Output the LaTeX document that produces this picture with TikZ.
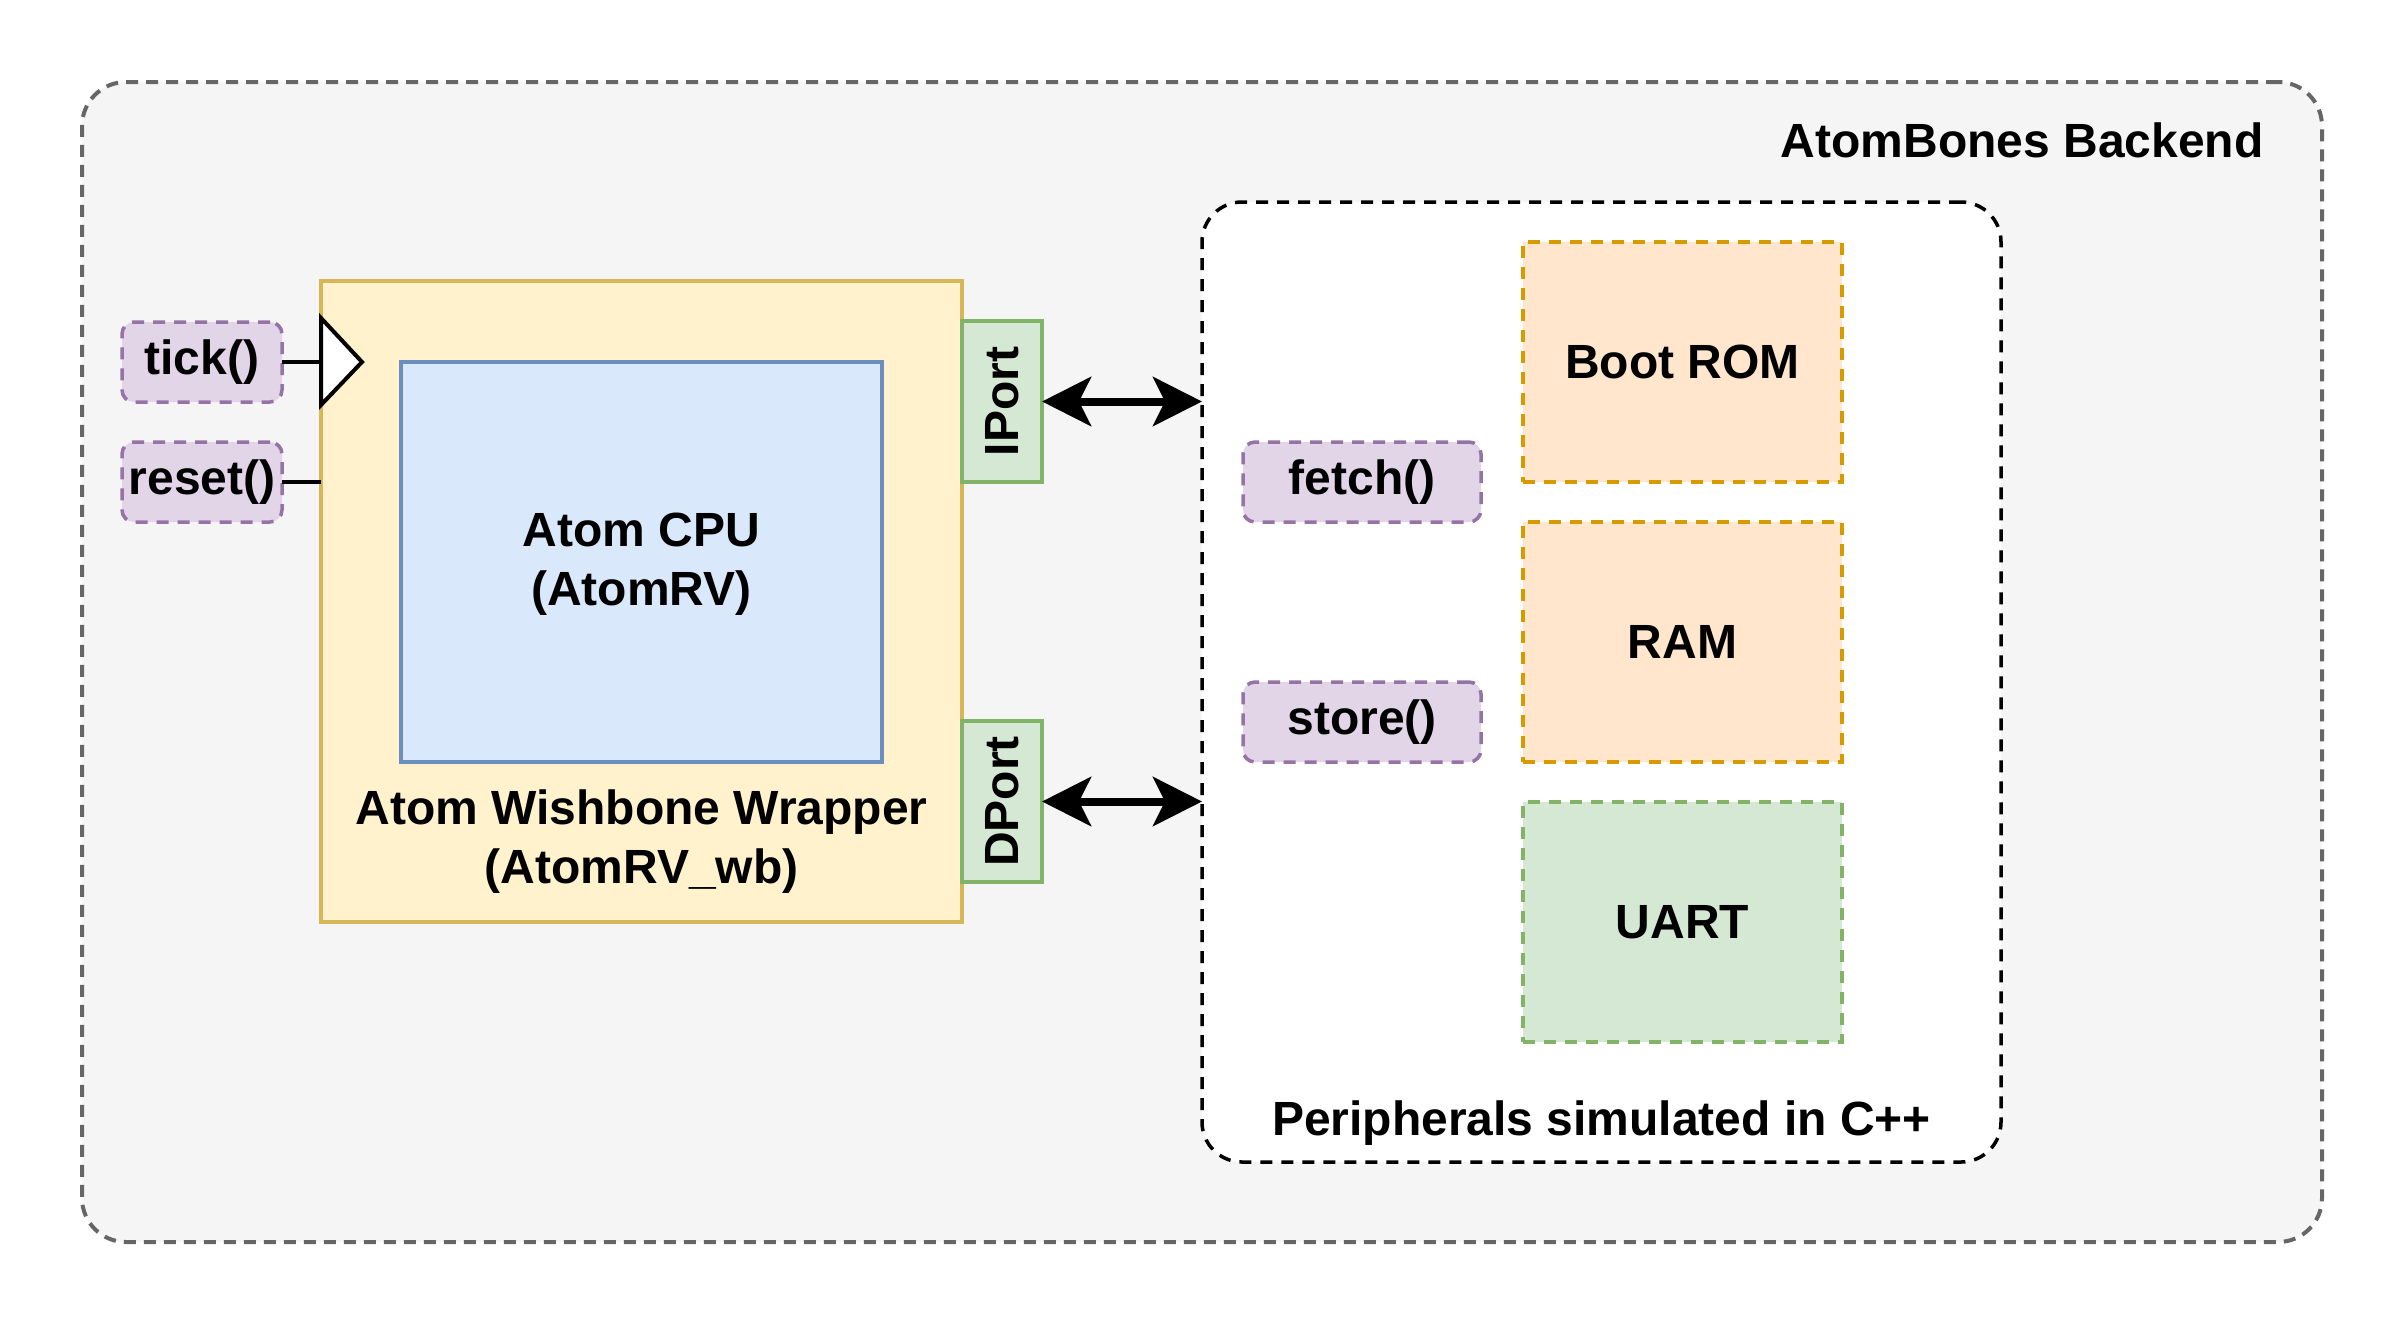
\documentclass[tikz,border=0pt]{standalone}
\usepackage{fontspec}
\setmainfont{Liberation Sans}
\usetikzlibrary{arrows.meta}
\definecolor{outerfill}{HTML}{F5F5F5}
\definecolor{outerdraw}{HTML}{666666}
\definecolor{wrapfill}{HTML}{FFF2CC}
\definecolor{wrapdraw}{HTML}{D6B656}
\definecolor{cpufill}{HTML}{DAE8FC}
\definecolor{cpudraw}{HTML}{6C8EBF}
\definecolor{greenfill}{HTML}{D5E8D4}
\definecolor{greendraw}{HTML}{82B366}
\definecolor{purpfill}{HTML}{E1D5E7}
\definecolor{purpdraw}{HTML}{9673A6}
\definecolor{orgfill}{HTML}{FFE6CC}
\definecolor{orgdraw}{HTML}{D79B00}
\tikzset{
  txt/.style={font=\bfseries\fontsize{24pt}{29.5pt}\selectfont, text=black, align=center, inner sep=0pt},
  box/.style={rectangle, inner sep=0pt, outer sep=0pt},
  outerbox/.style={box, fill=outerfill, draw=outerdraw, line width=2pt, dash pattern=on 6pt off 4pt, rounded corners=22pt, minimum width=1120pt, minimum height=580pt},
  periphbox/.style={box, fill=white, draw=black, line width=1.75pt, dash pattern=on 6pt off 4.5pt, rounded corners=20pt, minimum width=399.5pt, minimum height=480pt},
  wrapbox/.style={box, fill=wrapfill, draw=wrapdraw, line width=2pt, minimum width=320.5pt, minimum height=320.5pt},
  cpubox/.style={box, fill=cpufill, draw=cpudraw, line width=1.75pt, minimum width=240.5pt, minimum height=200pt},
  portbox/.style={box, fill=greenfill, draw=greendraw, line width=2pt, minimum width=40pt, minimum height=80.5pt},
  callbox/.style={box, txt, fill=purpfill, draw=purpdraw, line width=1.75pt, dash pattern=on 6pt off 4.5pt, rounded corners=6pt, minimum height=40pt},
  membox/.style={box, txt, fill=orgfill, draw=orgdraw, line width=1.75pt, dash pattern=on 6pt off 4.5pt, minimum width=159.5pt, minimum height=120pt},
  uartbox/.style={box, txt, fill=greenfill, draw=greendraw, line width=1.75pt, dash pattern=on 6pt off 4.5pt, minimum width=159.5pt, minimum height=120pt},
  wire/.style={draw=black, line width=2pt},
  biarrow/.style={draw=black, line width=4pt, {Stealth[length=24.5pt,width=24.5pt,inset=6pt]}-{Stealth[length=24.5pt,width=24.5pt,inset=6pt]}},
}
\begin{document}
\begin{tikzpicture}[x=0.5pt, y=-0.5pt]
\useasboundingbox (0,0) rectangle (2404,1324);
% outer container
\node[outerbox] (outer) at (1202,662) {};
\node[txt, anchor=base east] (title) at (2264,157) {AtomBones Backend};
% peripherals
\node[periphbox] (periph) at (1601.5,682) {};
\node[txt, anchor=base] (periphlabel) at (1601.5,1135) {Peripherals simulated in C++};
\node[membox] (rom) at (1682.5,362) {Boot ROM};
\node[membox] (ram) at (1682.5,642) {RAM};
\node[uartbox] (uart) at (1682.5,922) {UART};
\node[callbox, minimum width=119pt] (fetch) at (1362,482) {fetch()};
\node[callbox, minimum width=119pt] (store) at (1362,722) {store()};
% wrapper
\node[wrapbox] (wrap) at (641.5,601.5) {};
\node[cpubox] (cpu) at (641.5,562) {};
\node[txt] (cpulabel) at (641.5,564) {Atom CPU\\(AtomRV)};
\node[txt] (wraplabel) at (641.5,842) {Atom Wishbone Wrapper\\(AtomRV\_wb)};
% ports
\node[portbox] (iport) at (1002,401.5) {};
\node[txt, rotate=90] (iportlabel) at (1002,401.5) {IPort};
\node[portbox] (dport) at (1002,801.5) {};
\node[txt, rotate=90] (dportlabel) at (1002,801.5) {DPort};
% calls
\node[callbox, minimum width=80pt] (tick) at (202,362) {tick()};
\node[callbox, minimum width=80pt] (reset) at (202,482) {reset()};
% clock triangle
\coordinate (clk) at (321,362);
\filldraw[fill=white, draw=black, line width=2pt, line join=miter] (321,318) -- (362,362) -- (321,405) -- cycle;
\draw[wire] (tick.east) -- (clk);
\draw[wire] (reset.east) -- (reset.east -| wrap.west);
% bus arrows
\draw[biarrow] (iport.east) -- (iport.east -| periph.west);
\draw[biarrow] (dport.east) -- (dport.east -| periph.west);
\end{tikzpicture}
\end{document}
